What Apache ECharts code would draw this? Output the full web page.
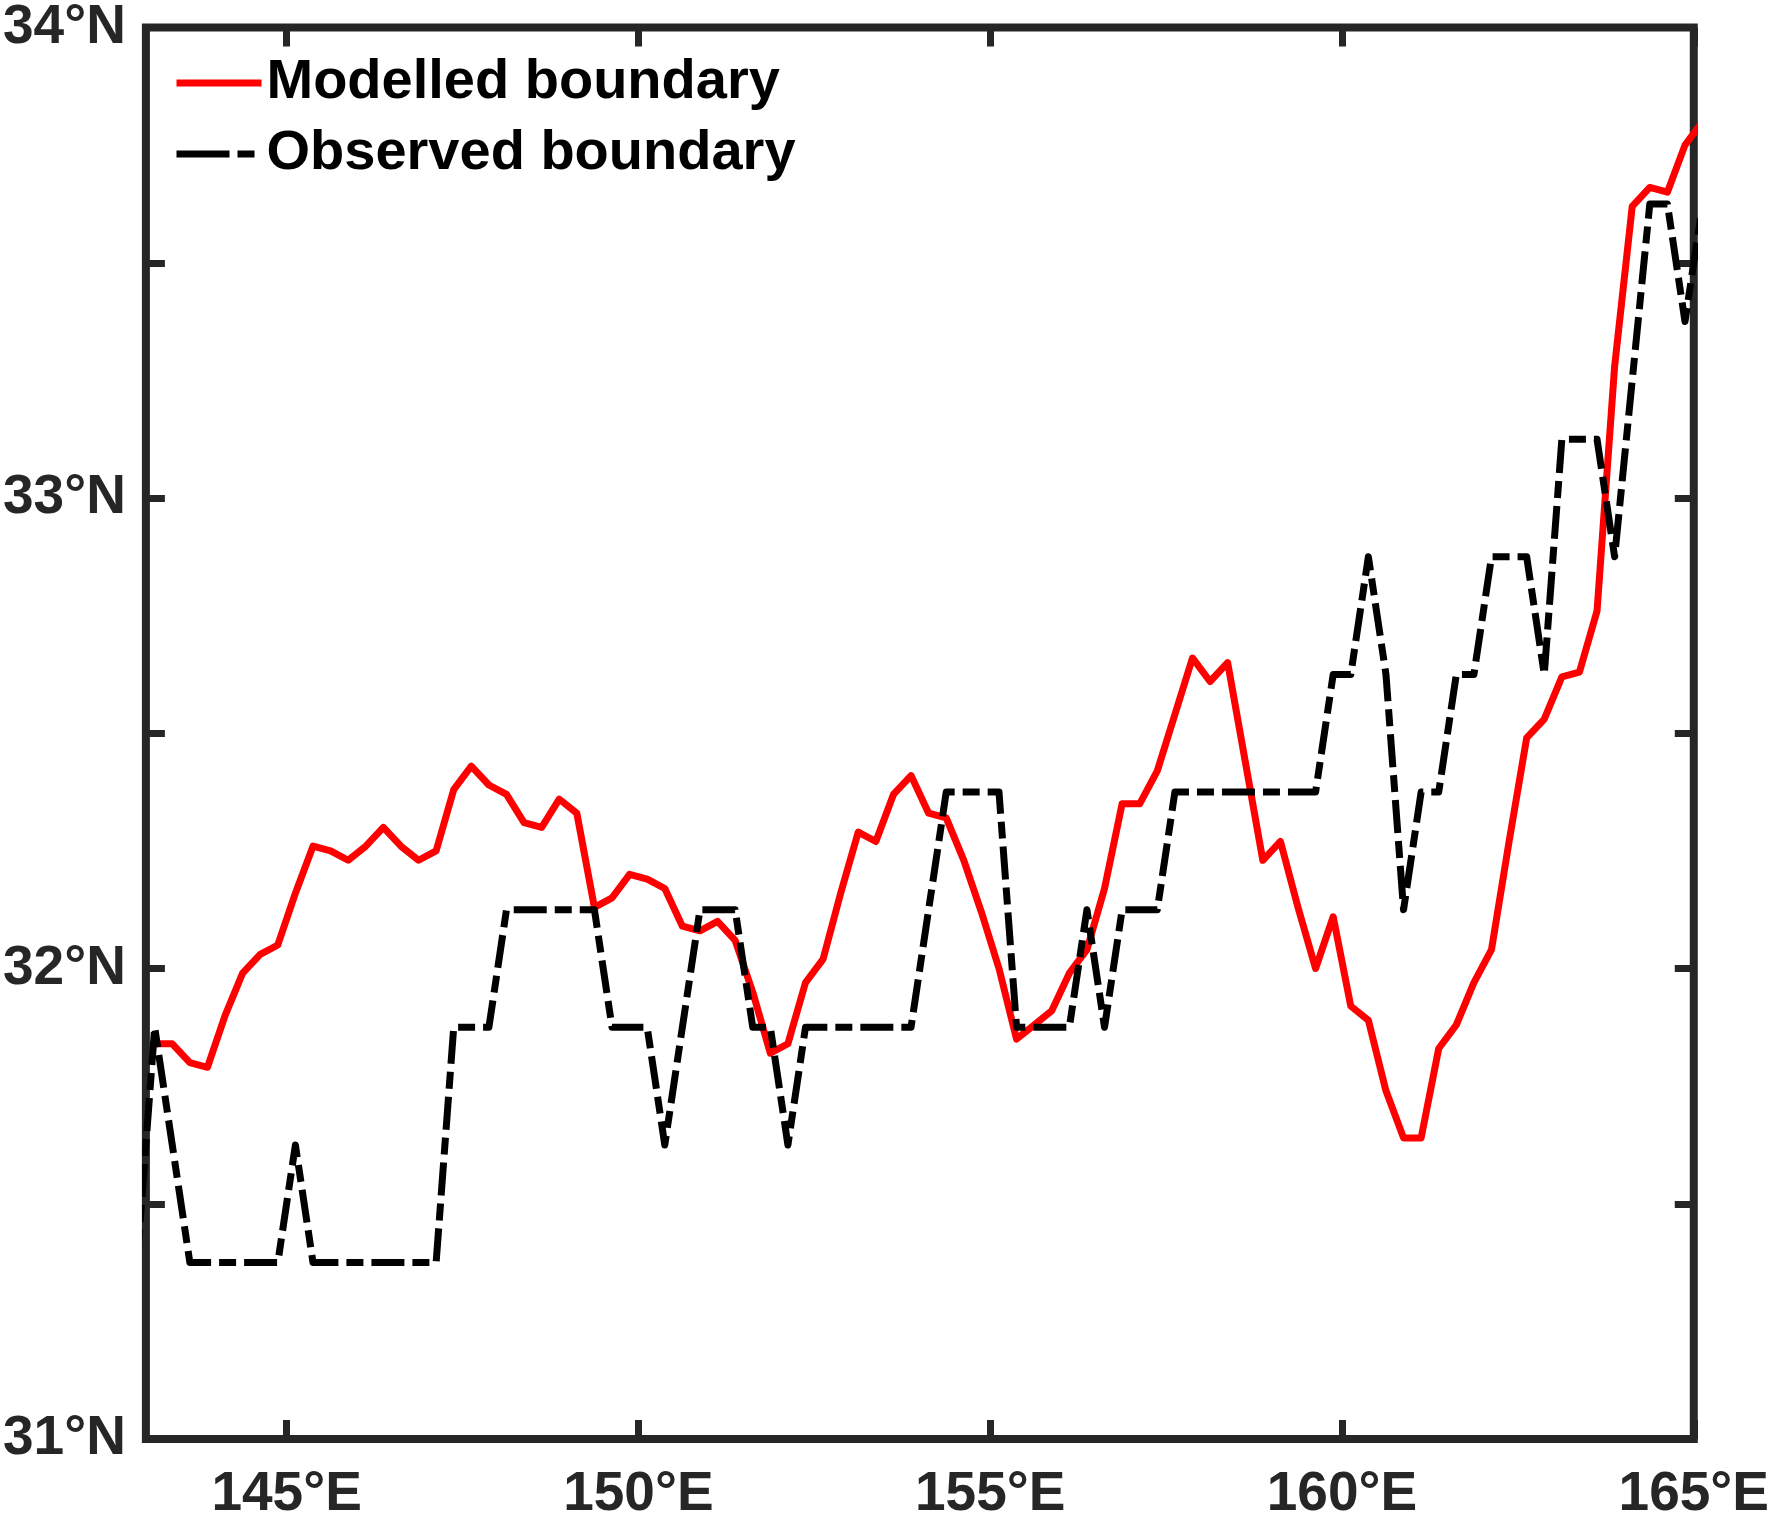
<!DOCTYPE html>
<html>
<head>
<meta charset="utf-8">
<title>Modelled vs observed boundary</title>
<script src="https://cdn.jsdelivr.net/npm/echarts@6/dist/echarts.min.js"></script>
<style>
  html, body { margin: 0; padding: 0; background: #fff; }
  #chart { width: 1772px; height: 1522px; }
</style>
</head>
<body>
<div id="chart"></div>
<script>
// longitude of each grid cell (°E)
const lons = [
  142.875, 143.125, 143.375, 143.625, 143.875, 144.125, 144.375, 144.625, 144.875, 145.125,
  145.375, 145.625, 145.875, 146.125, 146.375, 146.625, 146.875, 147.125, 147.375, 147.625,
  147.875, 148.125, 148.375, 148.625, 148.875, 149.125, 149.375, 149.625, 149.875, 150.125,
  150.375, 150.625, 150.875, 151.125, 151.375, 151.625, 151.875, 152.125, 152.375, 152.625,
  152.875, 153.125, 153.375, 153.625, 153.875, 154.125, 154.375, 154.625, 154.875, 155.125,
  155.375, 155.625, 155.875, 156.125, 156.375, 156.625, 156.875, 157.125, 157.375, 157.625,
  157.875, 158.125, 158.375, 158.625, 158.875, 159.125, 159.375, 159.625, 159.875, 160.125,
  160.375, 160.625, 160.875, 161.125, 161.375, 161.625, 161.875, 162.125, 162.375, 162.625,
  162.875, 163.125, 163.375, 163.625, 163.875, 164.125, 164.375, 164.625, 164.875, 165.125
]

// latitude of the modelled boundary (°N), null = no value
const modelled = [
  null, 31.84, 31.84, 31.80, 31.79, 31.90, 31.99, 32.03, 32.05, 32.16,
  32.26, 32.25, 32.23, 32.26, 32.30, 32.26, 32.23, 32.25, 32.38, 32.43,
  32.39, 32.37, 32.31, 32.30, 32.36, 32.33, 32.13, 32.15, 32.20, 32.19,
  32.17, 32.09, 32.08, 32.10, 32.06, 31.95, 31.82, 31.84, 31.97, 32.02,
  32.16, 32.29, 32.27, 32.37, 32.41, 32.33, 32.32, 32.23, 32.12, 32.00,
  31.85, 31.88, 31.91, 31.99, 32.04, 32.17, 32.35, 32.35, 32.42, 32.54,
  32.66, 32.61, 32.65, 32.44, 32.23, 32.27, 32.13, 32.00, 32.11, 31.92,
  31.89, 31.74, 31.64, 31.64, 31.83, 31.88, 31.97, 32.04, 32.27, 32.49,
  32.53, 32.62, 32.63, 32.76, 33.28, 33.62, 33.66, 33.65, 33.75, 33.80
]

// latitude of the observed boundary (°N)
const observed = [
  31.375, 31.875, 31.625, 31.375, 31.375, 31.375, 31.375, 31.375, 31.375, 31.625,
  31.375, 31.375, 31.375, 31.375, 31.375, 31.375, 31.375, 31.375, 31.875, 31.875,
  31.875, 32.125, 32.125, 32.125, 32.125, 32.125, 32.125, 31.875, 31.875, 31.875,
  31.625, 31.875, 32.125, 32.125, 32.125, 31.875, 31.875, 31.625, 31.875, 31.875,
  31.875, 31.875, 31.875, 31.875, 31.875, 32.125, 32.375, 32.375, 32.375, 32.375,
  31.875, 31.875, 31.875, 31.875, 32.125, 31.875, 32.125, 32.125, 32.125, 32.375,
  32.375, 32.375, 32.375, 32.375, 32.375, 32.375, 32.375, 32.375, 32.625, 32.625,
  32.875, 32.625, 32.125, 32.375, 32.375, 32.625, 32.625, 32.875, 32.875, 32.875,
  32.625, 33.125, 33.125, 33.125, 32.875, 33.25, 33.625, 33.625, 33.375, 33.625
]

const xTicks = [145, 150, 155, 160, 165]
const yTicks = [31, 32, 33, 34]

const toPairs = (xs, ys) => xs.map((x, i) => [x, ys[i]]).filter(p => p[1] !== null)

const axisColor = '#262626'
const font = 'Liberation Sans, Arial, sans-serif'
const dashDot = [33, 8, 17, 8]

const chart = echarts.init(document.getElementById('chart'), null, { renderer: 'canvas' })

// only whole degrees get a label, half degrees keep just the tick
const yLabel = v => (yTicks.indexOf(Math.round(v * 1000) / 1000) >= 0 ? v + '°N' : '')

const option = {
  animation: false,
  backgroundColor: '#fff',
  grid: {
    left: 141, right: 75, top: 20, bottom: 75,
    show: true, borderWidth: 8, borderColor: axisColor, backgroundColor: 'transparent'
  },
  legend: {
    orient: 'vertical',
    left: 168,
    top: 50,
    padding: 5,
    itemWidth: 85,
    itemHeight: 20,
    itemGap: 15,
    itemStyle: { opacity: 0 },
    lineStyle: { width: 7 },
    textStyle: { fontFamily: font, fontSize: 56, fontWeight: 'bold', color: '#000', lineHeight: 56 },
    data: [
      { name: 'Modelled boundary' },
      { name: 'Observed boundary', lineStyle: { width: 7, type: [53, 8, 17, 8] } }
    ]
  },
  xAxis: [
    {
      type: 'value', position: 'bottom', min: 143, max: 165,
      axisLine: { show: false },
      splitLine: { show: false },
      axisTick: { inside: true, length: 19, customValues: xTicks, lineStyle: { color: axisColor, width: 7 } },
      axisLabel: {
        customValues: xTicks, margin: 28, formatter: v => v + '°E',
        color: axisColor, fontFamily: font, fontSize: 55, fontWeight: 'bold'
      }
    },
    {
      type: 'value', position: 'top', min: 143, max: 165,
      axisLine: { show: false },
      splitLine: { show: false },
      axisTick: { inside: true, length: 19, customValues: xTicks, lineStyle: { color: axisColor, width: 7 } },
      axisLabel: { show: false }
    }
  ],
  yAxis: [
    {
      type: 'value', position: 'left', min: 31, max: 34, interval: 0.5,
      axisLine: { show: false },
      splitLine: { show: false },
      axisTick: { inside: true, length: 19, lineStyle: { color: axisColor, width: 7 } },
      axisLabel: {
        margin: 20, formatter: yLabel, padding: [6, 0, 0, 0],
        color: axisColor, fontFamily: font, fontSize: 55, fontWeight: 'bold'
      }
    },
    {
      type: 'value', position: 'right', min: 31, max: 34, interval: 0.5,
      axisLine: { show: false },
      splitLine: { show: false },
      axisTick: { inside: true, length: 19, lineStyle: { color: axisColor, width: 7 } },
      axisLabel: { show: false }
    }
  ],
  series: [
    {
      name: 'Modelled boundary',
      type: 'line',
      showSymbol: false,
      symbol: 'none',
      clip: true,
      color: '#ff0000',
      lineStyle: { color: '#ff0000', width: 7, join: 'round' },
      data: toPairs(lons, modelled)
    },
    {
      name: 'Observed boundary',
      type: 'line',
      showSymbol: false,
      symbol: 'none',
      clip: true,
      color: '#000000',
      lineStyle: { color: '#000000', width: 7, type: dashDot, join: 'round' },
      data: toPairs(lons, observed)
    }
  ]
}

chart.setOption(option)
</script>
</body>
</html>
